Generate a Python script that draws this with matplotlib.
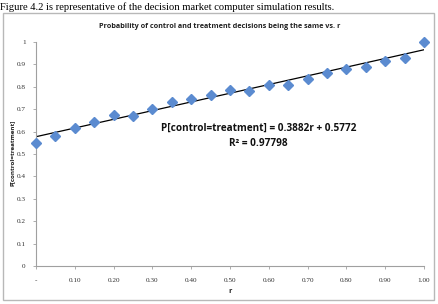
import matplotlib
matplotlib.use("Agg")
import matplotlib.pyplot as plt
from matplotlib.patches import Rectangle
import numpy as np

r = [0.00, 0.05, 0.10, 0.15, 0.20, 0.25, 0.30, 0.35, 0.40, 0.45, 0.50,
     0.55, 0.60, 0.65, 0.70, 0.75, 0.80, 0.85, 0.90, 0.95, 1.00]
p_same = [0.55, 0.58, 0.615, 0.645, 0.675, 0.67, 0.70, 0.73, 0.745, 0.765, 0.785,
          0.78, 0.81, 0.81, 0.835, 0.86, 0.88, 0.89, 0.915, 0.93, 1.00]
slope, intercept = 0.3882, 0.5772
r2_text = "R² = 0.97798"
x_ticks = [0.0, 0.1, 0.2, 0.3, 0.4, 0.5, 0.6, 0.7, 0.8, 0.9, 1.0]
x_ticklabels = ["-", "0.10", "0.20", "0.30", "0.40", "0.50", "0.60", "0.70", "0.80", "0.90", "1.00"]
y_ticks = [0, 0.1, 0.2, 0.3, 0.4, 0.5, 0.6, 0.7, 0.8, 0.9, 1]
y_ticklabels = ["0", "0.1", "0.2", "0.3", "0.4", "0.5", "0.6", "0.7", "0.8", "0.9", "1"]

W, H = 439, 304
fig = plt.figure(figsize=(W / 100, H / 100), dpi=100)
fig.patch.set_facecolor("white")

# caption text above chart
fig.text(0 / W, 1 - 7 / H, "Figure 4.2 is representative of the decision market computer simulation results.",
         family="Liberation Serif", fontsize=7.6, ha="left", va="center", color="black")

# chart frame
fig.add_artist(Rectangle((3 / W, 4 / H), 431 / W, 287 / H, transform=fig.transFigure,
                         fill=False, edgecolor="#b8b8b8", linewidth=1.0))

fig.text(220 / W, 1 - 27 / H, "Probability of control and treatment decisions being the same vs. r",
         family="Open Sans", fontweight="bold", fontsize=5.2, ha="center", va="center", color="#222222")

left, right = 36, 424
top, bottom = 42, 266
ax = fig.add_axes([left / W, 1 - bottom / H, (right - left) / W, (bottom - top) / H])
ax.set_xlim(0, 1)
ax.set_ylim(0, 1)
for s in ["top", "right"]:
    ax.spines[s].set_visible(False)
for s in ["left", "bottom"]:
    ax.spines[s].set_color("#a0a0a0")
    ax.spines[s].set_linewidth(0.8)
ax.set_xticks(x_ticks)
ax.set_xticklabels(x_ticklabels)
ax.set_yticks(y_ticks)
ax.set_yticklabels(y_ticklabels)
ax.tick_params(axis="both", length=2.5, width=0.6, color="#a0a0a0", labelsize=5.2,
               labelcolor="#333333", direction="out")
for lbl in ax.get_xticklabels() + ax.get_yticklabels():
    lbl.set_family("Liberation Serif")
ax.tick_params(axis="x", pad=6)
ax.tick_params(axis="y", pad=5)

xs = np.array([0.0, 1.0])
ax.plot(xs, slope * xs + intercept, color="black", linewidth=0.9, zorder=2)
ax.plot(r, p_same, linestyle="none", marker="D", markersize=5.3, color="#5b8bd0",
        markeredgecolor="#5b8bd0", zorder=3, clip_on=False)

ax.set_xlabel("r", family="Open Sans", fontweight="bold", fontsize=5.2, labelpad=4, color="#222222")
ax.set_ylabel("P[control=treatment]", family="Open Sans", fontweight="bold", fontsize=4.5,
              color="#222222")
ax.yaxis.set_label_coords(-(left - 15) / (right - left), (bottom - 153) / (bottom - top))

fig.text(259 / W, 1 - 128 / H, f"P[control=treatment] = {slope}r + {intercept}",
         family="Open Sans", fontweight="bold", fontsize=7.2, ha="center", va="center", color="#111111")
fig.text(258 / W, 1 - 143 / H, r2_text,
         family="Open Sans", fontweight="bold", fontsize=7.2, ha="center", va="center", color="#111111")

fig.savefig("out.png", dpi=100)
